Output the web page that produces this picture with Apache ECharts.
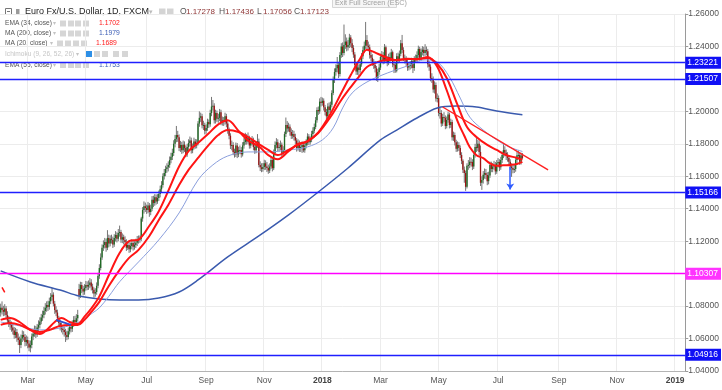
<!DOCTYPE html>
<html><head><meta charset="utf-8">
<script src="https://cdn.jsdelivr.net/npm/echarts@6/dist/echarts.min.js"></script>
<style>html,body{margin:0;padding:0;background:#fff}#c{width:722px;height:390px}</style>
</head><body><div id="c"></div>
<script>
// ---- calendar (trading days) ----
const startDate = '2017-02-01', endDate = '2019-01-10';
const monthNames = ['Jan','Feb','Mar','Apr','May','Jun','Jul','Aug','Sep','Oct','Nov','Dec'];

// ---- daily candles EUR/USD (index 0 = 2017-02-01) ----
const opens = [
1.0760,1.0790,1.0776,1.0765,1.0785,1.0745,1.0712,1.0695,1.0684,1.0668,
1.0650,1.0622,1.0640,1.0605,1.0591,1.0560,1.0600,1.0622,1.0610,1.0578,
1.0591,1.0570,1.0545,1.0560,1.0612,1.0630,1.0653,1.0625,1.0668,1.0684,
1.0705,1.0730,1.0745,1.0770,1.0790,1.0807,1.0795,1.0830,1.0856,1.0870,
1.0815,1.0776,1.0760,1.0725,1.0696,1.0675,1.0660,1.0653,1.0640,1.0622,
1.0610,1.0645,1.0671,1.0660,1.0690,1.0715,1.0702,1.0725,1.0905,1.0865,
1.0930,1.0905,1.0890,1.0912,1.0930,1.0920,1.0930,1.0945,1.0920,1.0900,
1.0878,1.0887,1.0925,1.0985,1.1035,1.1100,1.1160,1.1177,1.1195,1.1160,
1.1220,1.1185,1.1215,1.1208,1.1180,1.1220,1.1238,1.1215,1.1250,1.1257,
1.1210,1.1225,1.1208,1.1195,1.1160,1.1177,1.1150,1.1170,1.1189,1.1165,
1.1177,1.1190,1.1210,1.1208,1.1215,1.1340,1.1392,1.1415,1.1405,1.1392,
1.1420,1.1380,1.1400,1.1455,1.1436,1.1470,1.1445,1.1466,1.1490,1.1520,
1.1546,1.1600,1.1620,1.1645,1.1655,1.1670,1.1700,1.1720,1.1744,1.1800,
1.1830,1.1854,1.1840,1.1775,1.1793,1.1760,1.1795,1.1774,1.1735,1.1780,
1.1805,1.1820,1.1760,1.1780,1.1815,1.1790,1.1805,1.1925,1.1960,1.1970,
1.1915,1.1916,1.1880,1.1898,1.1935,1.1920,1.1990,1.2030,1.2035,1.1945,
1.1990,1.1955,1.1960,1.1995,1.1935,1.1945,1.1935,1.1970,1.1925,1.1885,
1.1850,1.1790,1.1793,1.1750,1.1735,1.1790,1.1735,1.1760,1.1762,1.1735,
1.1790,1.1811,1.1845,1.1815,1.1836,1.1790,1.1810,1.1824,1.1780,1.1760,
1.1793,1.1815,1.1670,1.1655,1.1645,1.1657,1.1680,1.1660,1.1651,1.1635,
1.1660,1.1700,1.1650,1.1745,1.1793,1.1810,1.1775,1.1780,1.1795,1.1745,
1.1762,1.1860,1.1916,1.1895,1.1905,1.1873,1.1850,1.1860,1.1842,1.1820,
1.1775,1.1805,1.1770,1.1780,1.1793,1.1760,1.1790,1.1805,1.1845,1.1810,
1.1824,1.1860,1.1880,1.1904,1.1945,1.2009,1.2000,1.2060,1.2052,1.2065,
1.2025,1.1996,1.1970,1.2030,1.2009,1.2040,1.2113,1.2195,1.2243,1.2265,
1.2286,1.2230,1.2347,1.2400,1.2360,1.2409,1.2430,1.2395,1.2409,1.2455,
1.2420,1.2391,1.2350,1.2286,1.2245,1.2270,1.2255,1.2290,1.2340,1.2378,
1.2405,1.2440,1.2405,1.2395,1.2347,1.2330,1.2300,1.2286,1.2265,1.2205,
1.2243,1.2270,1.2335,1.2347,1.2310,1.2395,1.2317,1.2300,1.2335,1.2329,
1.2365,1.2290,1.2286,1.2250,1.2340,1.2317,1.2355,1.2420,1.2378,1.2330,
1.2318,1.2304,1.2270,1.2280,1.2286,1.2310,1.2267,1.2320,1.2325,1.2347,
1.2385,1.2330,1.2366,1.2380,1.2360,1.2378,1.2370,1.2290,1.2275,1.2205,
1.2200,1.2135,1.2163,1.2080,1.2082,1.1990,1.1990,1.1925,1.1965,1.1960,
1.1910,1.1947,1.1980,1.1916,1.1935,1.1840,1.1854,1.1810,1.1770,1.1793,
1.1775,1.1731,1.1695,1.1640,1.1620,1.1535,1.1665,1.1670,1.1690,1.1688,
1.1660,1.1731,1.1780,1.1774,1.1800,1.1750,1.1560,1.1577,1.1610,1.1620,
1.1608,1.1570,1.1605,1.1670,1.1645,1.1660,1.1670,1.1630,1.1680,1.1688,
1.1655,1.1700,1.1731,1.1762,1.1745,1.1725,1.1713,1.1690,1.1660,1.1651,
1.1640,1.1645,1.1700,1.1730,1.1731,1.1690,1.17278];
const closes = [
1.0790,1.0776,1.0765,1.0785,1.0745,1.0712,1.0695,1.0684,1.0668,1.0650,
1.0622,1.0640,1.0605,1.0591,1.0560,1.0600,1.0622,1.0610,1.0578,1.0591,
1.0570,1.0545,1.0560,1.0612,1.0630,1.0653,1.0625,1.0668,1.0684,1.0705,
1.0730,1.0745,1.0770,1.0790,1.0807,1.0795,1.0830,1.0856,1.0870,1.0815,
1.0776,1.0760,1.0725,1.0696,1.0675,1.0660,1.0653,1.0640,1.0622,1.0610,
1.0645,1.0671,1.0660,1.0690,1.0715,1.0702,1.0725,1.0745,1.0865,1.0930,
1.0905,1.0890,1.0912,1.0930,1.0920,1.0930,1.0945,1.0920,1.0900,1.0878,
1.0887,1.0925,1.0985,1.1035,1.1100,1.1160,1.1177,1.1195,1.1160,1.1220,
1.1185,1.1215,1.1208,1.1180,1.1220,1.1238,1.1215,1.1250,1.1257,1.1210,
1.1225,1.1208,1.1195,1.1160,1.1177,1.1150,1.1170,1.1189,1.1165,1.1177,
1.1190,1.1210,1.1208,1.1215,1.1340,1.1392,1.1415,1.1405,1.1392,1.1420,
1.1380,1.1400,1.1455,1.1436,1.1470,1.1445,1.1466,1.1490,1.1520,1.1546,
1.1600,1.1620,1.1645,1.1655,1.1670,1.1700,1.1720,1.1744,1.1800,1.1830,
1.1854,1.1840,1.1775,1.1793,1.1760,1.1795,1.1774,1.1735,1.1780,1.1805,
1.1820,1.1760,1.1780,1.1815,1.1790,1.1805,1.1925,1.1960,1.1970,1.1915,
1.1916,1.1880,1.1898,1.1935,1.1920,1.1990,1.2030,1.2035,1.1945,1.1990,
1.1955,1.1960,1.1995,1.1935,1.1945,1.1935,1.1970,1.1925,1.1885,1.1850,
1.1790,1.1793,1.1750,1.1735,1.1790,1.1735,1.1760,1.1762,1.1735,1.1790,
1.1811,1.1845,1.1815,1.1836,1.1790,1.1810,1.1824,1.1780,1.1760,1.1793,
1.1815,1.1670,1.1655,1.1645,1.1657,1.1680,1.1660,1.1651,1.1635,1.1660,
1.1700,1.1650,1.1745,1.1793,1.1810,1.1775,1.1780,1.1795,1.1745,1.1762,
1.1860,1.1916,1.1895,1.1905,1.1873,1.1850,1.1860,1.1842,1.1820,1.1775,
1.1805,1.1770,1.1780,1.1793,1.1760,1.1790,1.1805,1.1845,1.1810,1.1824,
1.1860,1.1880,1.1904,1.1945,1.2009,1.2000,1.2060,1.2052,1.2065,1.2025,
1.1996,1.1970,1.2030,1.2009,1.2040,1.2113,1.2195,1.2243,1.2265,1.2286,
1.2230,1.2347,1.2400,1.2360,1.2409,1.2430,1.2395,1.2409,1.2455,1.2420,
1.2391,1.2350,1.2286,1.2245,1.2270,1.2255,1.2290,1.2340,1.2378,1.2405,
1.2440,1.2405,1.2395,1.2347,1.2330,1.2300,1.2286,1.2265,1.2205,1.2243,
1.2270,1.2335,1.2347,1.2310,1.2395,1.2317,1.2300,1.2335,1.2329,1.2365,
1.2290,1.2286,1.2250,1.2340,1.2317,1.2355,1.2420,1.2378,1.2330,1.2318,
1.2304,1.2270,1.2280,1.2286,1.2310,1.2267,1.2320,1.2325,1.2347,1.2385,
1.2330,1.2366,1.2380,1.2360,1.2378,1.2370,1.2290,1.2275,1.2205,1.2200,
1.2135,1.2163,1.2080,1.2082,1.1990,1.1990,1.1925,1.1965,1.1960,1.1910,
1.1947,1.1980,1.1916,1.1935,1.1840,1.1854,1.1810,1.1770,1.1793,1.1775,
1.1731,1.1695,1.1640,1.1620,1.1535,1.1665,1.1670,1.1690,1.1688,1.1660,
1.1731,1.1780,1.1774,1.1800,1.1750,1.1560,1.1577,1.1610,1.1620,1.1608,
1.1570,1.1605,1.1670,1.1645,1.1660,1.1670,1.1630,1.1680,1.1688,1.1655,
1.1700,1.1731,1.1762,1.1745,1.1725,1.1713,1.1690,1.1660,1.1651,1.1640,
1.1645,1.1700,1.1730,1.1731,1.1690,1.1728,1.17123];
const lows = [
1.0735,1.0748,1.0738,1.0741,1.0722,1.0690,1.0671,1.0654,1.0642,1.0625,
1.0599,1.0602,1.0580,1.0560,1.0511,1.0541,1.0579,1.0588,1.0552,1.0555,
1.0540,1.0522,1.0515,1.0540,1.0590,1.0611,1.0603,1.0610,1.0645,1.0662,
1.0688,1.0709,1.0725,1.0748,1.0765,1.0770,1.0778,1.0812,1.0835,1.0798,
1.0752,1.0738,1.0702,1.0672,1.0650,1.0638,1.0625,1.0612,1.0579,1.0590,
1.0595,1.0625,1.0638,1.0641,1.0672,1.0680,1.0685,1.0705,1.0840,1.0850,
1.0880,1.0866,1.0870,1.0895,1.0898,1.0900,1.0910,1.0896,1.0878,1.0852,
1.0858,1.0870,1.0910,1.0968,1.1020,1.1085,1.1140,1.1155,1.1135,1.1145,
1.1162,1.1168,1.1185,1.1158,1.1165,1.1198,1.1192,1.1200,1.1228,1.1190,
1.1188,1.1180,1.1172,1.1140,1.1146,1.1128,1.1132,1.1150,1.1142,1.1148,
1.1158,1.1170,1.1185,1.1190,1.1200,1.1320,1.1370,1.1380,1.1368,1.1372,
1.1350,1.1360,1.1385,1.1410,1.1418,1.1425,1.1430,1.1448,1.1470,1.1500,
1.1530,1.1580,1.1600,1.1622,1.1630,1.1652,1.1680,1.1700,1.1725,1.1778,
1.1810,1.1812,1.1755,1.1750,1.1738,1.1742,1.1750,1.1718,1.1720,1.1762,
1.1785,1.1740,1.1742,1.1765,1.1770,1.1772,1.1790,1.1905,1.1935,1.1895,
1.1885,1.1858,1.1862,1.1880,1.1898,1.1905,1.1970,1.2005,1.1925,1.1925,
1.1935,1.1930,1.1940,1.1915,1.1912,1.1910,1.1918,1.1902,1.1862,1.1828,
1.1768,1.1760,1.1730,1.1715,1.1719,1.1712,1.1718,1.1738,1.1715,1.1722,
1.1770,1.1795,1.1795,1.1800,1.1770,1.1772,1.1790,1.1760,1.1738,1.1742,
1.1775,1.1655,1.1632,1.1625,1.1628,1.1638,1.1640,1.1626,1.1615,1.1620,
1.1645,1.1630,1.1638,1.1730,1.1772,1.1752,1.1752,1.1760,1.1722,1.1725,
1.1748,1.1842,1.1870,1.1875,1.1850,1.1830,1.1832,1.1820,1.1798,1.1752,
1.1758,1.1750,1.1750,1.1744,1.1748,1.1745,1.1772,1.1790,1.1792,1.1795,
1.1810,1.1842,1.1865,1.1890,1.1930,1.1978,1.1985,1.2030,1.2035,1.2005,
1.1975,1.1950,1.1955,1.1990,1.1995,1.2025,1.2100,1.2175,1.2220,1.2240,
1.2205,1.2215,1.2330,1.2335,1.2345,1.2385,1.2370,1.2375,1.2390,1.2395,
1.2365,1.2330,1.2262,1.2225,1.2225,1.2210,1.2238,1.2275,1.2322,1.2360,
1.2385,1.2382,1.2370,1.2325,1.2308,1.2280,1.2262,1.2240,1.2188,1.2181,
1.2225,1.2255,1.2312,1.2290,1.2295,1.2298,1.2278,1.2285,1.2305,1.2312,
1.2272,1.2236,1.2238,1.2240,1.2295,1.2300,1.2340,1.2360,1.2310,1.2295,
1.2280,1.2250,1.2252,1.2258,1.2265,1.2236,1.2250,1.2298,1.2305,1.2330,
1.2312,1.2315,1.2345,1.2338,1.2342,1.2345,1.2270,1.2250,1.2185,1.2175,
1.2115,1.2110,1.2060,1.2055,1.1970,1.1955,1.1905,1.1910,1.1935,1.1890,
1.1895,1.1930,1.1895,1.1898,1.1820,1.1818,1.1790,1.1750,1.1752,1.1755,
1.1712,1.1675,1.1620,1.1560,1.1510,1.1525,1.1640,1.1650,1.1660,1.1638,
1.1645,1.1715,1.1750,1.1755,1.1728,1.1540,1.1516,1.1555,1.1585,1.1582,
1.1545,1.1550,1.1590,1.1625,1.1625,1.1640,1.1610,1.1615,1.1655,1.1632,
1.1640,1.1682,1.1712,1.1722,1.1700,1.1690,1.1668,1.1640,1.1596,1.1618,
1.1620,1.1628,1.1680,1.1705,1.1670,1.1672,1.17056];
const highs = [
1.0815,1.0829,1.0802,1.0812,1.0800,1.0768,1.0739,1.0718,1.0705,1.0690,
1.0671,1.0666,1.0659,1.0631,1.0612,1.0625,1.0650,1.0645,1.0628,1.0619,
1.0612,1.0589,1.0588,1.0631,1.0660,1.0680,1.0678,1.0690,1.0712,1.0731,
1.0752,1.0772,1.0795,1.0818,1.0829,1.0833,1.0852,1.0880,1.0912,1.0885,
1.0832,1.0799,1.0778,1.0740,1.0715,1.0699,1.0684,1.0675,1.0660,1.0648,
1.0668,1.0690,1.0695,1.0712,1.0738,1.0740,1.0750,1.0777,1.0937,1.0950,
1.0948,1.0925,1.0935,1.0955,1.0952,1.0958,1.0972,1.0966,1.0938,1.0915,
1.0910,1.0946,1.1005,1.1058,1.1125,1.1180,1.1205,1.1220,1.1215,1.1268,
1.1240,1.1236,1.1240,1.1228,1.1243,1.1262,1.1255,1.1275,1.1296,1.1270,
1.1248,1.1240,1.1230,1.1212,1.1200,1.1195,1.1192,1.1212,1.1205,1.1200,
1.1215,1.1232,1.1235,1.1235,1.1350,1.1410,1.1445,1.1438,1.1425,1.1442,
1.1435,1.1425,1.1478,1.1480,1.1490,1.1488,1.1490,1.1512,1.1542,1.1570,
1.1618,1.1645,1.1665,1.1680,1.1692,1.1722,1.1745,1.1770,1.1822,1.1855,
1.1910,1.1880,1.1858,1.1818,1.1812,1.1820,1.1815,1.1790,1.1800,1.1828,
1.1845,1.1838,1.1802,1.1838,1.1830,1.1828,1.1940,1.2000,1.1992,1.1985,
1.1942,1.1930,1.1920,1.1955,1.1950,1.2010,1.2089,1.2070,1.2050,1.2010,
1.2005,1.1985,1.2015,1.2010,1.1968,1.1965,1.1992,1.1985,1.1940,1.1900,
1.1865,1.1820,1.1810,1.1770,1.1808,1.1805,1.1782,1.1790,1.1780,1.1810,
1.1835,1.1868,1.1860,1.1870,1.1850,1.1832,1.1848,1.1838,1.1798,1.1815,
1.1860,1.1832,1.1692,1.1680,1.1682,1.1702,1.1698,1.1688,1.1672,1.1680,
1.1722,1.1715,1.1765,1.1815,1.1835,1.1828,1.1805,1.1820,1.1808,1.1785,
1.1875,1.1962,1.1940,1.1930,1.1920,1.1895,1.1885,1.1880,1.1862,1.1835,
1.1828,1.1820,1.1802,1.1815,1.1810,1.1812,1.1828,1.1865,1.1860,1.1845,
1.1880,1.1902,1.1925,1.1965,1.2025,1.2030,1.2080,1.2089,1.2085,1.2080,
1.2040,1.2015,1.2050,1.2055,1.2060,1.2130,1.2215,1.2265,1.2290,1.2335,
1.2305,1.2365,1.2420,1.2425,1.2535,1.2475,1.2455,1.2440,1.2478,1.2470,
1.2445,1.2408,1.2365,1.2305,1.2295,1.2290,1.2312,1.2360,1.2400,1.2430,
1.2551,1.2470,1.2430,1.2412,1.2370,1.2352,1.2322,1.2310,1.2280,1.2262,
1.2292,1.2355,1.2372,1.2365,1.2415,1.2405,1.2340,1.2355,1.2362,1.2385,
1.2375,1.2312,1.2305,1.2358,1.2362,1.2375,1.2440,1.2471,1.2395,1.2350,
1.2340,1.2320,1.2302,1.2310,1.2330,1.2325,1.2340,1.2350,1.2370,1.2405,
1.2398,1.2388,1.2402,1.2398,1.2414,1.2400,1.2385,1.2310,1.2290,1.2235,
1.2215,1.2185,1.2178,1.2110,1.2098,1.2022,1.2008,1.1985,1.1995,1.1975,
1.1968,1.1998,1.1992,1.1955,1.1948,1.1875,1.1870,1.1825,1.1815,1.1810,
1.1790,1.1748,1.1705,1.1660,1.1635,1.1680,1.1700,1.1718,1.1715,1.1705,
1.1750,1.1800,1.1836,1.1825,1.1820,1.1790,1.1600,1.1632,1.1648,1.1645,
1.1625,1.1628,1.1690,1.1690,1.1682,1.1695,1.1688,1.1700,1.1712,1.1705,
1.1720,1.1752,1.1805,1.1785,1.1765,1.1748,1.1730,1.1705,1.1680,1.1675,
1.1672,1.1720,1.1752,1.1758,1.1748,1.1745,1.17436];

// ---- indicators: [bar index, value] ----
const ema34 = [[0,1.0684],[7,1.0696],[14,1.0684],[22,1.0653],[29,1.0641],[36,1.0653],[44,1.0678],[51,1.0684],[57,1.0684],[62,1.0715],[67,1.0764],[73,1.0826],[80,1.0924],[88,1.1023],[95,1.1097],[102,1.1146],[110,1.1232],[117,1.1331],[124,1.1423],[132,1.1546],[139,1.1639],[146,1.1713],[154,1.1793],[161,1.1854],[168,1.1885],[176,1.1873],[183,1.1842],[191,1.1799],[198,1.1762],[205,1.1731],[213,1.1762],[220,1.1793],[227,1.1817],[235,1.1867],[244,1.1965],[252,1.2070],[259,1.2150],[266,1.2224],[271,1.2273],[279,1.2304],[286,1.2317],[293,1.2317],[301,1.2323],[308,1.2323],[316,1.2329],[323,1.2292],[330,1.2206],[338,1.2040],[345,1.1904],[352,1.1842],[360,1.1793],[367,1.1762],[374,1.1731],[382,1.1713],[386,1.1702]];
const ma20 = [[0,1.0715],[7,1.0727],[14,1.0702],[22,1.0653],[29,1.0628],[34,1.0653],[40,1.0702],[45,1.0727],[51,1.0702],[57,1.0690],[62,1.0735],[67,1.0785],[73,1.0860],[80,1.0990],[88,1.1127],[95,1.1200],[102,1.1210],[110,1.1295],[117,1.1385],[124,1.1510],[132,1.1660],[139,1.1755],[146,1.1805],[154,1.1865],[161,1.1920],[168,1.1945],[176,1.1880],[183,1.1820],[191,1.1785],[198,1.1730],[205,1.1705],[213,1.1755],[220,1.1800],[227,1.1815],[235,1.1870],[244,1.1985],[252,1.2113],[259,1.2224],[266,1.2325],[271,1.2380],[279,1.2355],[286,1.2330],[293,1.2315],[301,1.2325],[308,1.2320],[316,1.2335],[323,1.2275],[330,1.2130],[338,1.1940],[343,1.1850],[347,1.1780],[352,1.1730],[357,1.1712],[362,1.1680],[367,1.1665],[372,1.1668],[377,1.1670],[382,1.1676],[386,1.1689]];
const ma200 = [[0,1.1017],[22,1.0949],[44,1.0899],[58,1.0862],[73,1.0844],[88,1.0838],[102,1.0838],[117,1.0850],[132,1.0887],[146,1.0961],[168,1.1103],[191,1.1232],[213,1.1362],[235,1.1503],[257,1.1651],[281,1.1824],[293,1.1885],[308,1.1959],[323,1.2021],[337,1.2033],[352,1.2027],[367,1.2002],[386,1.1979]];
const ema55 = [[0,1.0702],[14,1.0678],[29,1.0653],[44,1.0665],[58,1.0702],[68,1.0758],[73,1.0789],[80,1.0860],[88,1.0950],[102,1.1072],[117,1.1208],[132,1.1374],[146,1.1577],[157,1.1670],[168,1.1725],[183,1.1750],[198,1.1750],[213,1.1762],[227,1.1781],[238,1.1824],[246,1.1898],[253,1.2021],[260,1.2113],[271,1.2181],[286,1.2236],[301,1.2280],[314,1.2317],[323,1.2304],[332,1.2212],[340,1.2082],[347,1.1965],[357,1.1885],[367,1.1824],[376,1.1781],[386,1.1753]];
const trendLine = [[327,1.2027],[405,1.1639]];
const redTick = [[1,1.0915],[3,1.0884]];
const blueSeg = [[41,1.0715],[52,1.0684]];
const arrowPts = [[377,1.1657],[377,1.1518]];

// ---- horizontal levels & price labels ----
const levelValues = [1.23221, 1.21507, 1.15166, 1.10307, 1.04916];
const levelKinds  = ['blue','blue','blue','magenta','blue'];
const lastPrice = 1.17123;
const yMin = 1.04, yMax = 1.26, yStep = 0.02;

// ---- legend texts ----
const titleText = 'Euro Fx/U.S. Dollar, 1D, FXCM';
const ohlcLabels = ['O','H','L','C'];
const ohlcValues = ['1.17278','1.17436','1.17056','1.17123'];
const indNames = ['EMA (34, close)','MA (200, close)','MA (20, close)','Ichimoku (9, 26, 52, 26)','EMA (55, close)'];
const indValues = ['1.1702','1.1979','1.1689','','1.1753'];

// ===== build =====
const dates = [];
{
  const d = new Date(startDate + 'T00:00:00Z'), e = new Date(endDate + 'T00:00:00Z');
  while (d <= e) { const wd = d.getUTCDay(); if (wd !== 0 && wd !== 6) dates.push(d.toISOString().slice(0,10)); d.setUTCDate(d.getUTCDate()+1); }
}
function isLabel(i){
  if (i <= 0) return false;
  if (dates[i].slice(0,7) === dates[i-1].slice(0,7)) return false;
  return (+dates[i].slice(5,7)) % 2 === 1;
}
const candleData = closes.map((c,i)=>[i, opens[i], c, lows[i], highs[i]]);

const UP='#1f6a24', DOWN='#9a1414', WICK='#757575';
const FONT = '"Liberation Sans", Arial, sans-serif';
const COLORS = {blue:'#1f1fff', magenta:'#ff00ff'};

const levelMarks = levelValues.map((v,k)=>({
  yAxis: v,
  lineStyle:{color: COLORS[levelKinds[k]], width: levelKinds[k]==='blue'?1.4:1.3, type:'solid', opacity:1},
  label:{show:true, position:'end', formatter: v.toFixed(5), color:'#fff', backgroundColor: levelKinds[k]==='blue'?'#1010f5':'#ff33ff', padding:[2,3,1,2], distance:0, fontSize:8.5, fontFamily:FONT}
}));
levelMarks.push({
  yAxis: lastPrice, lineStyle:{opacity:0},
  label:{show:true, position:'end', formatter: lastPrice.toFixed(5), color:'#fff', backgroundColor:'#ff1f1f', padding:[2,3,1,2], distance:0, fontSize:8.5, fontFamily:FONT}
});

// legend graphics
const g = [];
function txt(x,y,text,fill,size,weight){ g.push({type:'text', x, y, silent:true, style:{text, fill, font:(weight||'normal')+' '+size+'px '+FONT, verticalAlign:'middle'}}); }
function box(x,y,w,h,fill){ g.push({type:'rect', silent:true, shape:{x,y,width:w,height:h}, style:{fill}}); }
// exit full screen tooltip
g.push({type:'rect', silent:true, shape:{x:332.5,y:-3.5,width:64,height:11}, style:{fill:'#f6f6f6', stroke:'#d6d6d6', lineWidth:1}});
txt(335,3.5,'Exit Full Screen (ESC)','#a0a0a0',7.2);
// row 1
g.push({type:'rect', silent:true, shape:{x:5.5,y:8.5,width:6,height:6}, style:{fill:'none', stroke:'#777', lineWidth:1}});
g.push({type:'line', silent:true, shape:{x1:7,y1:11.5,x2:10,y2:11.5}, style:{stroke:'#777', lineWidth:1}});
box(16,9,3.5,6,'#9a9a9a');
txt(25,12,titleText,'#222',9);
txt(149,12,'▾','#bbb',7);
box(159,8.5,6.5,6.5,'#d4d4d4'); box(167,8.5,6.5,6.5,'#d4d4d4');
const ohlcX = [180,219,257,294];
ohlcLabels.forEach((l,k)=>{ txt(ohlcX[k],12,l,'#555',8.5); txt(ohlcX[k]+6,12,ohlcValues[k],'#8f3636',8); });
// indicator rows
const rowY = [23.5,33.5,43.5,54,65];
const caretX = [53,53,50,76,53];
const iconXs = [[60,68,75,83],[60,68,75,83],[57,65,73,81],[86,94,102,113,122],[60,68,75,83]];
const valX = [99,99,96,0,99];
const valColors = ['#ff1a1a','#3b5db5','#ff1a1a','','#3b5db5'];
indNames.forEach((n,k)=>{
  txt(5,rowY[k],n,k===3?'#c6c6c6':'#555',6.6);
  txt(caretX[k],rowY[k],'▾','#c4c4c4',6);
  iconXs[k].forEach((x,j)=>box(x,rowY[k]-3,6,6,(k===3&&j===0)?'#2d8fe6':'#d6d6d6'));
  if (indValues[k]) txt(valX[k],rowY[k],indValues[k],valColors[k],6.8);
});

const lineS = (name,data,color,width,z,smooth)=>({type:'line', name, data, z, smooth: smooth===undefined?0.35:smooth, showSymbol:false, symbol:'none', silent:true, connectNulls:true, lineStyle:{color,width}, itemStyle:{color}});

const option = {
  animation:false,
  backgroundColor:'#ffffff',
  grid:{left:0, right:32, top:14, bottom:19, containLabel:false},
  xAxis:{
    type:'category', data:dates, boundaryGap:true,
    axisLine:{show:true, lineStyle:{color:'#b4b4b4'}},
    axisTick:{show:false},
    axisLabel:{interval:(i)=>isLabel(i), color:'#555', fontSize:8.5, fontFamily:FONT, margin:5,
      formatter:(v)=>{ const m=+v.slice(5,7); return m===1 ? '{b|'+v.slice(0,4)+'}' : monthNames[m-1]; },
      rich:{b:{fontWeight:'bold', color:'#444', fontSize:8.5, fontFamily:FONT}}},
    splitLine:{show:true, interval:(i)=>isLabel(i), lineStyle:{color:'#ececec', width:1}}
  },
  yAxis:{
    type:'value', position:'right', min:yMin, max:yMax, interval:yStep, scale:true,
    axisLine:{show:true, lineStyle:{color:'#9a9a9a'}},
    axisTick:{show:true, length:3, lineStyle:{color:'#9a9a9a'}},
    axisLabel:{formatter:(v)=>v.toFixed(5), color:'#555', fontSize:8.5, fontFamily:FONT, margin:3},
    splitLine:{show:true, lineStyle:{color:'#ececec', width:1}}
  },
  graphic: g,
  series:[
    {
      type:'custom', name:'EURUSD', data:candleData, encode:{x:0, y:[1,2,3,4]}, clip:true, z:2, silent:true,
      renderItem:(params, api)=>{
        const i=api.value(0), o=api.value(1), c=api.value(2), l=api.value(3), h=api.value(4);
        const pO=api.coord([i,o]), pC=api.coord([i,c]), pL=api.coord([i,l]), pH=api.coord([i,h]);
        const bw=api.size([1,0])[0];
        const x=pO[0];
        const top=Math.min(pO[1],pC[1]), ht=Math.max(1,Math.abs(pO[1]-pC[1]));
        return {type:'group', children:[
          {type:'line', shape:{x1:x,y1:pH[1],x2:x,y2:pL[1]}, style:{stroke:WICK, lineWidth:1}},
          {type:'rect', shape:{x:x-bw*0.5, y:top, width:bw, height:ht}, style:{fill: c>=o?UP:DOWN}}
        ]};
      }
    },
    lineS('MA 200', ma200, '#3a5aae', 1.5, 3),
    lineS('EMA 55', ema55, '#8a9edc', 1, 3),
    lineS('EMA 34', ema34, '#ff1414', 2, 4),
    lineS('MA 20', ma20, '#ff1414', 2, 4),
    lineS('tick', redTick, '#ff1414', 1.5, 4, false),
    lineS('seg', blueSeg, '#2f4fd0', 1.8, 4, false),
    Object.assign(lineS('Trend', trendLine, '#ff2020', 1.4, 5, false), {
      markLine:{silent:true, symbol:['none','none'], animation:false, z:6, data: levelMarks.concat([
        [{coord:arrowPts[0], symbol:'none', lineStyle:{color:'#2f5cff', width:1.5, type:'solid'}, label:{show:false}},
         {coord:arrowPts[1], symbol:'arrow', symbolSize:6}]
      ])}
    })
  ]
};
const chart = echarts.init(document.getElementById('c'), null, {renderer:'canvas'});
chart.setOption(option);
</script>
</body></html>
